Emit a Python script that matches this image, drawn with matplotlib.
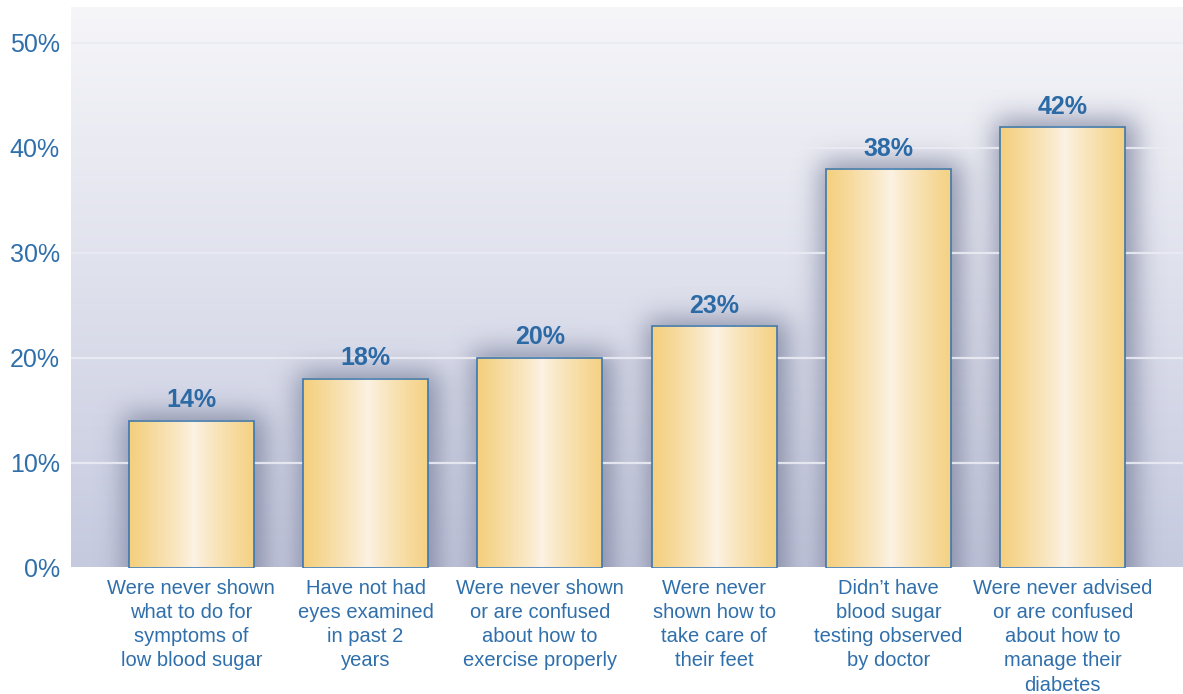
import numpy as np
import matplotlib
matplotlib.use("Agg")
import matplotlib.pyplot as plt

# ---- data -------------------------------------------------------------
categories = [
    "Were never shown\nwhat to do for\nsymptoms of\nlow blood sugar",
    "Have not had\neyes examined\nin past 2\nyears",
    "Were never shown\nor are confused\nabout how to\nexercise properly",
    "Were never\nshown how to\ntake care of\ntheir feet",
    "Didn\u2019t have\nblood sugar\ntesting observed\nby doctor",
    "Were never advised\nor are confused\nabout how to\nmanage their\ndiabetes",
]
values = [14, 18, 20, 23, 38, 42]
y_ticks = [0, 10, 20, 30, 40, 50]
y_tick_labels = ["0%", "10%", "20%", "30%", "40%", "50%"]

# ---- style ------------------------------------------------------------
BLUE = "#2f6fab"
LABEL_BLUE = "#2c6aa6"
EDGE = "#3d78b0"
GOLD = np.array([244, 207, 124]) / 255
CREAM = np.array([252, 243, 229]) / 255
BG_TOP = np.array([246, 246, 249]) / 255
BG_BOTTOM = np.array([198, 202, 223]) / 255
SHADOW_RGB = np.array([115, 122, 150]) / 255
plt.rcParams["font.family"] = ["Liberation Sans", "DejaVu Sans"]

W, H, DPI = 1183, 694, 100
fig = plt.figure(figsize=(W / DPI, H / DPI), dpi=DPI)
fig.patch.set_facecolor("white")

ax_left, ax_top, ax_bottom = 71, 7, 567.5
ax = fig.add_axes([ax_left / W, (H - ax_bottom) / H,
                   (W - ax_left) / W, (ax_bottom - ax_top) / H])
n = len(values)
x = np.arange(n)
xlim = (-0.69, n - 1 + 0.69)
ylim = (0, 53.43)
ax.set_xlim(*xlim)
ax.set_ylim(*ylim)
for s in ax.spines.values():
    s.set_visible(False)

# background: vertical gradient
grad = np.linspace(0, 1, 256)[:, None, None]
bg = BG_BOTTOM * (1 - grad) + BG_TOP * grad
ax.imshow(bg, extent=(xlim[0], xlim[1], ylim[0], ylim[1]), origin="lower",
          aspect="auto", zorder=0, interpolation="bilinear")

bar_width = 0.717
bars = ax.bar(x, values, width=bar_width, facecolor="none",
              edgecolor=EDGE, linewidth=1.2, zorder=4)

# soft drop shadow computed from the bar rectangles
ax_w_px = W - ax_left
ax_h_px = ax_bottom - ax_top
px_x = ax_w_px / (xlim[1] - xlim[0])
px_y = ax_h_px / (ylim[1] - ylim[0])
pad = 60
nx = int(ax_w_px) + 2 * pad
ny = int(ax_h_px) + 2 * pad
gx = xlim[0] + (np.arange(nx) - pad + 0.5) / px_x
gy = ylim[0] + (np.arange(ny) - pad + 0.5) / px_y
mask = np.zeros((ny, nx))
grow_x, grow_y = 8 / px_x, 5 / px_y
shift_x, shift_y = 3 / px_x, 1 / px_y
for b in bars:
    x0 = b.get_x() - grow_x + shift_x
    x1 = b.get_x() + b.get_width() + grow_x + shift_x
    y1 = b.get_height() + grow_y + shift_y
    mask[np.ix_(gy <= y1, (gx >= x0) & (gx <= x1))] = 1.0


def blur(a, sigma):
    r = int(3 * sigma)
    k = np.exp(-0.5 * (np.arange(-r, r + 1) / sigma) ** 2)
    k /= k.sum()
    a = np.apply_along_axis(lambda m: np.convolve(m, k, mode="same"), 0, a)
    a = np.apply_along_axis(lambda m: np.convolve(m, k, mode="same"), 1, a)
    return a


soft = blur(mask, 13)
shadow = np.zeros((ny, nx, 4))
shadow[..., :3] = SHADOW_RGB
shadow[..., 3] = 0.75 * soft
ext = (gx[0] - 0.5 / px_x, gx[-1] + 0.5 / px_x,
       gy[0] - 0.5 / px_y, gy[-1] + 0.5 / px_y)
ax.imshow(shadow, extent=ext, origin="lower", aspect="auto", zorder=1,
          interpolation="bilinear")
ax.set_xlim(*xlim)
ax.set_ylim(*ylim)

# gridlines
for t in y_ticks[1:]:
    ax.axhline(t, color="#eaebf3", linewidth=1.6, alpha=0.9, zorder=2)

# gold gradient fill in each bar
t = np.linspace(0, 1, 300)
s = np.clip(np.abs(t - 0.52) / 0.52, 0, 1) ** 0.85
fill = CREAM * (1 - s[:, None]) + GOLD * s[:, None]
fill = fill[None, :, :]
for b in bars:
    ax.imshow(fill, extent=(b.get_x(), b.get_x() + b.get_width(), 0, b.get_height()),
              origin="lower", aspect="auto", zorder=3, interpolation="bilinear")
ax.set_xlim(*xlim)
ax.set_ylim(*ylim)

# value labels
for b, v in zip(bars, values):
    ax.annotate(f"{v}%", (b.get_x() + b.get_width() / 2, v),
                xytext=(0, 6), textcoords="offset points",
                ha="center", va="bottom", fontsize=18, fontweight="bold",
                color=LABEL_BLUE, zorder=5)

ax.set_yticks(y_ticks)
ax.set_yticklabels(y_tick_labels, fontsize=18, color=BLUE)
ax.set_xticks(x)
ax.set_xticklabels(categories, fontsize=14.5, color=BLUE, linespacing=1.35)
ax.tick_params(axis="y", length=0, pad=8)
ax.tick_params(axis="x", length=0, pad=8)

fig.savefig("out.png", dpi=DPI, facecolor="white")
